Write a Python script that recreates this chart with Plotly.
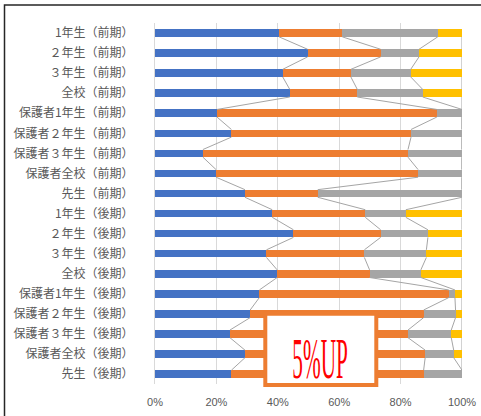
import numpy as np
import plotly.graph_objects as go

categories = [
    "1年生（前期）", "２年生（前期）", "３年生（前期）", "全校（前期）",
    "保護者1年生（前期）", "保護者２年生（前期）", "保護者３年生（前期）", "保護者全校（前期）",
    "先生（前期）",
    "1年生（後期）", "２年生（後期）", "３年生（後期）", "全校（後期）",
    "保護者1年生（後期）", "保護者２年生（後期）", "保護者３年生（後期）", "保護者全校（後期）",
    "先生（後期）",
]
series1 = [40.4, 49.7, 41.6, 43.9, 20.2, 24.9, 15.6, 19.9, 29.3, 38.2, 45.1, 36.3, 39.8, 34.0, 31.0, 24.4, 29.3, 24.9]
series2 = [20.6, 23.8, 22.2, 22.0, 71.6, 58.5, 66.8, 65.8, 23.7, 30.3, 28.4, 31.9, 30.1, 61.7, 56.5, 58.0, 58.7, 62.6]
series3 = [31.1, 12.5, 19.5, 21.3, 8.2, 16.6, 17.6, 14.3, 47.0, 13.2, 15.4, 20.2, 16.7, 2.0, 10.4, 14.1, 9.3, 12.5]
series4 = [7.9, 14.0, 16.7, 12.8, 0, 0, 0, 0, 0, 18.3, 11.1, 11.6, 13.4, 2.3, 2.1, 3.5, 2.7, 0]
series_names = ["系列1", "系列2", "系列3", "系列4"]
tick_vals_x = [0, 20, 40, 60, 80, 100]
tick_text_x = ["0%", "20%", "40%", "60%", "80%", "100%"]
callout_text = "5%UP"

colors = ["#4472C4", "#ED7D31", "#A5A5A5", "#FFC000"]
BARGAP = 0.62
half = (1 - BARGAP) / 2

ypos = list(range(len(categories)))
fig = go.Figure()

# series lines (connect segment ends between adjacent bars)
allser = [series1, series2, series3, series4]
cum = np.cumsum(np.array(allser, dtype=float), axis=0)
for k in range(cum.shape[0]):
    xs, ys = [], []
    for i in range(len(categories) - 1):
        xs += [cum[k, i], cum[k, i + 1], None]
        ys += [ypos[i] + half, ypos[i + 1] - half, None]
    fig.add_trace(go.Scatter(x=xs, y=ys, mode="lines",
                             line=dict(color="#A5A5A5", width=1),
                             hoverinfo="skip", showlegend=False))

for name, vals, c in zip(series_names, allser, colors):
    fig.add_trace(go.Bar(y=ypos, x=vals, name=name, orientation="h",
                         marker=dict(color=c, line=dict(width=0)), showlegend=False))

fig.update_layout(
    barmode="stack", bargap=BARGAP,
    width=481, height=416,
    margin=dict(l=155, r=19, t=23, b=32),
    paper_bgcolor="white", plot_bgcolor="white",
    font=dict(family="Noto Sans CJK JP", color="#595959"),
    xaxis=dict(range=[0, 100], tickvals=tick_vals_x, ticktext=tick_text_x,
               showgrid=True, gridcolor="#D9D9D9", gridwidth=1,
               zeroline=False, showline=False, automargin=False,
               ticks="outside", ticklen=8, tickcolor="rgba(0,0,0,0)",
               tickfont=dict(family="Liberation Sans", size=11, color="#595959")),
    yaxis=dict(tickvals=ypos, ticktext=categories, range=[len(categories) - 0.5, -0.5],
               showgrid=False, zeroline=False, showline=True, linecolor="#D9D9D9",
               automargin=False,
               ticks="outside", ticklen=18, tickcolor="rgba(0,0,0,0)",
               tickfont=dict(family="Noto Sans CJK JP", size=12, color="#595959")),
)

# outer chart frame
fig.add_shape(type="rect", xref="paper", yref="paper",
              x0=(4.5 - 155) / 307, x1=(495 - 155) / 307,
              y0=(384 - 430) / 361, y1=(384 - 5) / 361,
              line=dict(color="#262626", width=1.5), fillcolor="rgba(0,0,0,0)", layer="above")

# callout box
fig.add_shape(type="rect", xref="paper", yref="paper",
              x0=(265.3 - 155) / 307, x1=(376.3 - 155) / 307,
              y0=(384 - 385) / 361, y1=(384 - 313.7) / 361,
              line=dict(color="#ED7D31", width=4), fillcolor="white", layer="above")
fig.add_annotation(xref="paper", yref="paper", x=(320 - 155) / 307, y=(384 - 359) / 361,
                   text=callout_text, showarrow=False, xanchor="center", yanchor="middle",
                   font=dict(family="Liberation Serif", size=56, color="#FF0000"))

post = """
document.body.style.margin='0';
document.body.style.overflow='hidden';
document.querySelectorAll('.annotation-text').forEach(function(e){
  e.style.transformBox='fill-box'; e.style.transformOrigin='center';
  e.style.transform='scaleX(0.38)';
});
"""
fig.write_html("out.html", post_script=post, config={"displayModeBar": False})
